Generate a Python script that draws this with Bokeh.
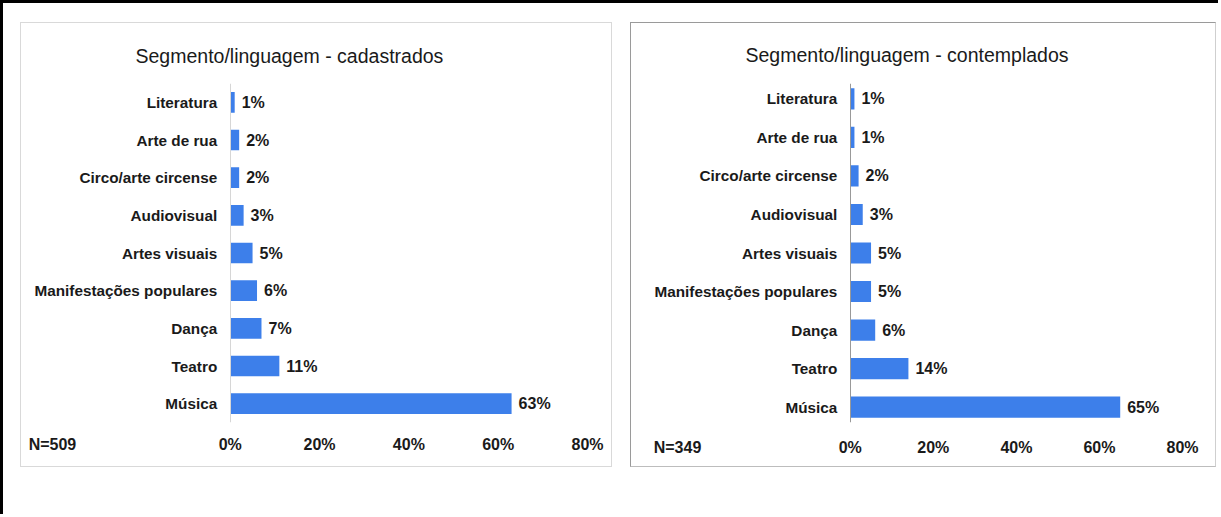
from bokeh.plotting import figure
from bokeh.layouts import row
from bokeh.models import (FactorRange, Range1d, ColumnDataSource, FixedTicker,
                          CustomJSTickFormatter, Title, LinearAxis)
from bokeh.core.properties import value
from bokeh.embed import file_html
from bokeh.resources import INLINE

categories = ["Literatura", "Arte de rua", "Circo/arte circense", "Audiovisual",
              "Artes visuais", "Manifestações populares", "Dança", "Teatro", "Música"]
cadastrados = [1, 2, 2, 3, 5, 6, 7, 11, 63]
contemplados = [1, 1, 2, 3, 5, 5, 6, 14, 65]
titles = ["Segmento/linguagem - cadastrados", "Segmento/linguagem - contemplados"]
n_labels = ["N=509", "N=349"]
x_ticks = [0, 20, 40, 60, 80]

FONT = "Liberation Sans"
BLUE = "#3d7fea"
TXT = "#1a1a1a"


def make_panel(vals, title, nlab, width, height, frame_px, zero_px, bl, br, bt, bb,
               ytitle_standoff, title_offset, n_pos, x_standoff, y_axis_color,
               bottom_line_color, border_styles, y_pad):
    # frame_px: frame width in pixels; zero_px: pixels from frame left to the 0% line
    x_start = -80.0 * zero_px / (frame_px - zero_px)
    p = figure(width=width, height=height, output_backend="svg", toolbar_location=None,
               y_range=FactorRange(factors=list(reversed(categories)), range_padding=y_pad,
                                   range_padding_units="absolute"),
               x_range=Range1d(x_start, 80),
               min_border_left=bl, min_border_right=br, min_border_top=bt, min_border_bottom=bb,
               outline_line_color=None, background_fill_color="white",
               border_fill_color="white")
    p.styles = border_styles
    src = ColumnDataSource(dict(cat=categories, v=vals, lab=[f"{x}%" for x in vals]))
    p.hbar(y="cat", right="v", left=0, height=0.55, source=src, color=BLUE, line_color=None)
    p.text(x="v", y="cat", text="lab", source=src, x_offset=7, text_baseline="middle",
           text_font=value(FONT), text_font_style="bold", text_font_size="16px",
           text_color=TXT)
    p.grid.visible = False

    # x axis: percentage ticks plus the N label on the same row
    p.xaxis.ticker = FixedTicker(ticks=[n_pos] + x_ticks)
    p.xaxis.formatter = CustomJSTickFormatter(args=dict(n=nlab),
                                              code="return tick < 0 ? n : tick + '%';")
    p.xaxis.major_tick_line_color = None
    p.xaxis.major_tick_out = 0
    p.xaxis.major_tick_in = 0
    p.xaxis.minor_tick_line_color = None
    p.xaxis.axis_line_color = None
    p.xaxis.major_label_text_font = FONT
    p.xaxis.major_label_text_font_style = "bold"
    p.xaxis.major_label_text_font_size = "16px"
    p.xaxis.major_label_text_color = TXT
    p.xaxis.major_label_standoff = x_standoff

    if bottom_line_color:
        line_axis = LinearAxis(fixed_location=0, bounds=(0, 80), axis_line_color=bottom_line_color,
                               major_tick_line_color=None, minor_tick_line_color=None,
                               major_tick_out=0, major_tick_in=0, minor_tick_out=0,
                               major_label_text_font_size="0px", major_label_text_alpha=0)
        p.add_layout(line_axis, "below")

    # y axis placed at x = 0
    p.yaxis.fixed_location = 0
    p.yaxis.major_tick_line_color = None
    p.yaxis.major_tick_out = 0
    p.yaxis.major_tick_in = 0
    p.yaxis.minor_tick_line_color = None
    p.yaxis.axis_line_color = y_axis_color
    p.yaxis.major_label_text_font = FONT
    p.yaxis.major_label_text_font_style = "bold"
    p.yaxis.major_label_text_font_size = "15.3px"
    p.yaxis.major_label_text_color = TXT
    p.yaxis.major_label_standoff = 13

    p.add_layout(Title(text=title, align="left", offset=title_offset, standoff=ytitle_standoff,
                       text_font=FONT, text_font_size="19.5px", text_font_style="normal",
                       text_color=TXT), "above")
    return p


# left panel: canvas x 20..612, frame from x=26 to 585, 0% at 229
p1 = make_panel(cadastrados, titles[0], n_labels[0], 592, 445,
                frame_px=585 - 26, zero_px=229 - 26, bl=5, br=26, bt=58, bb=46,
                ytitle_standoff=34, title_offset=109, n_pos=-39.8, x_standoff=13,
                y_axis_color="#d6d6d6", bottom_line_color=None,
                border_styles={"border": "1px solid #d9d9d9"}, y_pad=0)
# right panel: canvas x 630..1216, frame from x=636 to 1180, 0% at 849
p2 = make_panel(contemplados, titles[1], n_labels[1], 586, 445,
                frame_px=1180 - 636, zero_px=849 - 636, bl=5, br=35, bt=58, bb=46,
                ytitle_standoff=36, title_offset=109, n_pos=-41.6, x_standoff=16,
                y_axis_color="#999999", bottom_line_color="#999999",
                border_styles={"border-top": "1px solid #9a9a9a", "border-left": "1px solid #9a9a9a",
                               "border-right": "1px solid #cfcfcf", "border-bottom": "1px solid #bdbdbd"},
                y_pad=-0.1)

p1.margin = (19, 0, 0, 17)
p2.margin = (19, 0, 0, 18)

root = row(p1, p2, styles={"border-top": "3px solid #000", "border-left": "3px solid #000"},
           width=1218, height=514)

open("out.html", "w").write(file_html(root, INLINE))
